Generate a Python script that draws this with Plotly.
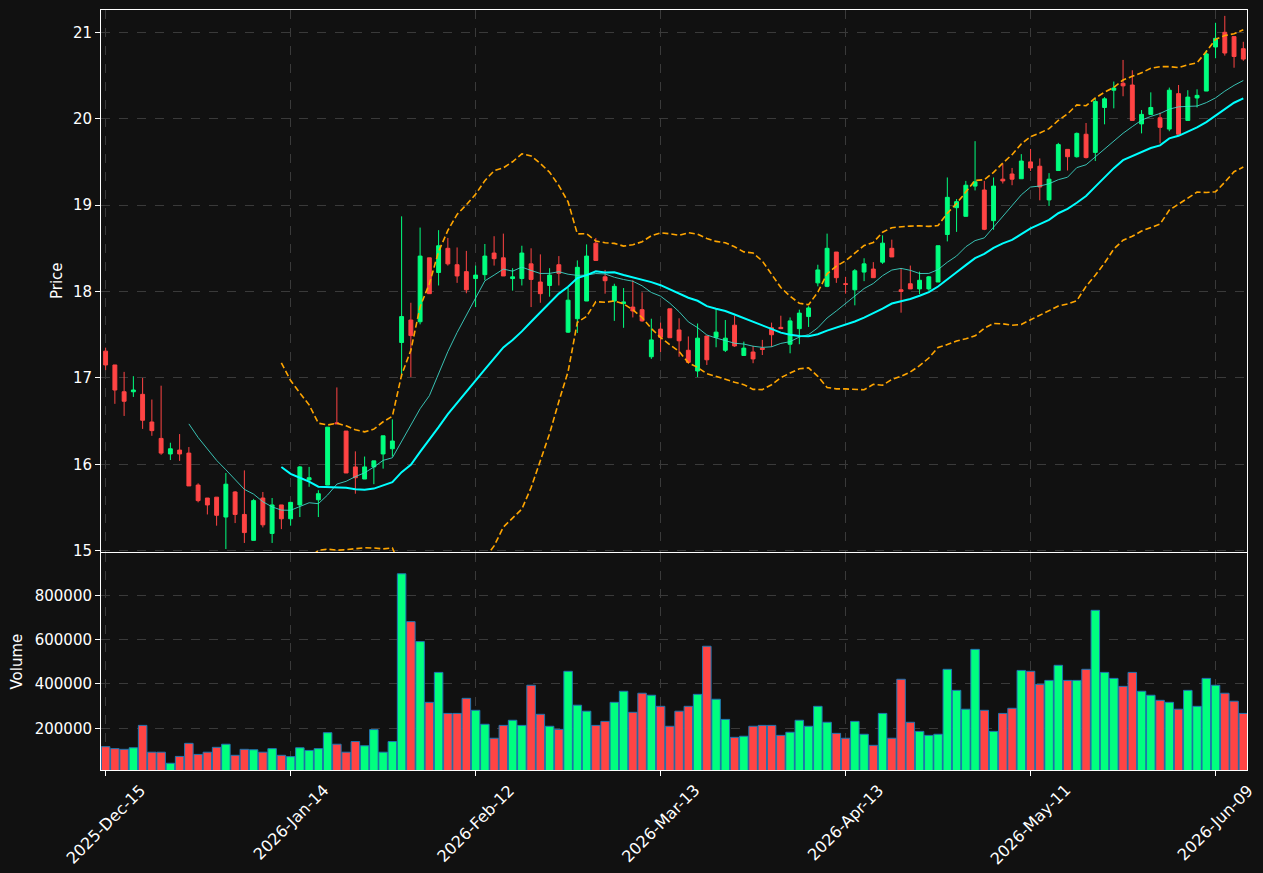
import plotly.graph_objects as go
import pandas as pd

# ---- data ----
tick_labels = ["2025-Dec-15", "2026-Jan-14", "2026-Feb-12", "2026-Mar-13",
               "2026-Apr-13", "2026-May-11", "2026-Jun-09"]
tick_index = [0, 20, 40, 60, 80, 100, 120]

opens = [17.31, 17.15, 16.84, 16.84, 16.81, 16.49, 16.30, 16.12, 16.165, 16.13,
         15.76, 15.61, 15.62, 15.39, 15.68, 15.42, 15.12, 15.61, 15.20, 15.53,
         15.37, 15.53, 15.82, 15.59, 15.76, 16.48, 16.385, 15.97, 15.83, 15.97,
         16.12, 16.18, 17.41, 17.67, 17.65, 18.39, 18.22, 18.50, 18.31, 18.23,
         18.15, 18.195, 18.445, 18.39, 18.15, 18.15, 18.32, 18.11, 18.07, 18.31,
         17.53, 17.685, 17.89, 18.56, 18.17, 17.89, 17.86, 17.82, 17.79, 17.245,
         17.565, 17.80, 17.555, 17.32, 17.08, 17.485, 17.47, 17.32, 17.61, 17.26,
         17.30, 17.345, 17.58, 17.585, 17.39, 17.57, 17.71, 18.10, 18.06, 18.457,
         18.09, 18.02, 18.225, 18.26, 18.34, 18.50, 18.02, 18.09, 18.03, 18.03,
         18.11, 18.66, 18.97, 18.87, 19.22, 19.175, 18.82, 19.30, 19.36, 19.305,
         19.50, 19.45, 19.06, 19.40, 19.645, 19.56, 19.82, 19.61, 20.13, 20.33,
         20.41, 20.39, 19.94, 20.05, 20.01, 19.88, 20.29, 19.98, 20.24, 20.32,
         20.83, 21.00, 20.95, 20.81]
highs = [17.35, 17.15, 17.07, 17.02, 17.00, 16.75, 16.91, 16.25, 16.35, 16.20,
         15.78, 15.61, 15.62, 15.90, 15.69, 15.93, 15.60, 15.68, 15.61, 15.53,
         15.56, 15.98, 15.97, 15.70, 16.43, 16.89, 16.385, 16.15, 16.09, 16.04,
         16.33, 16.52, 18.87, 17.87, 18.74, 18.39, 18.71, 18.62, 18.51, 18.47,
         18.30, 18.55, 18.64, 18.67, 18.27, 18.53, 18.50, 18.43, 18.27, 18.41,
         18.04, 18.36, 18.545, 18.62, 18.25, 18.09, 18.04, 18.13, 17.99, 17.685,
         17.64, 17.80, 17.69, 17.48, 17.63, 17.485, 17.80, 17.67, 17.72, 17.42,
         17.37, 17.44, 17.64, 17.72, 17.70, 17.79, 17.83, 18.31, 18.67, 18.457,
         18.17, 18.26, 18.385, 18.34, 18.65, 18.60, 18.27, 18.30, 18.23, 18.18,
         18.53, 19.32, 19.07, 19.28, 19.74, 19.28, 19.32, 19.48, 19.43, 19.59,
         19.65, 19.54, 19.37, 19.72, 19.645, 19.84, 19.95, 20.23, 20.25, 20.43,
         20.68, 20.56, 20.10, 20.305, 20.07, 20.36, 20.39, 20.33, 20.34, 20.795,
         21.11, 21.19, 20.95, 20.89]
lows = [17.09, 16.70, 16.56, 16.78, 16.41, 16.33, 16.11, 16.05, 16.04, 15.75,
        15.56, 15.42, 15.29, 15.02, 15.32, 15.09, 15.12, 15.27, 15.09, 15.25,
        15.29, 15.39, 15.74, 15.39, 15.76, 16.465, 15.90, 15.66, 15.83, 15.77,
        15.95, 16.09, 17.01, 17.01, 17.62, 17.975, 18.07, 18.30, 18.10, 17.98,
        17.82, 18.13, 18.30, 18.18, 18.01, 18.07, 17.82, 17.87, 17.94, 18.07,
        17.52, 17.52, 17.89, 18.36, 17.975, 17.66, 17.58, 17.70, 17.65, 17.22,
        17.30, 17.465, 17.245, 17.17, 17.01, 17.15, 17.355, 17.30, 17.36, 17.26,
        17.17, 17.265, 17.36, 17.57, 17.285, 17.39, 17.59, 18.06, 18.05, 18.10,
        17.975, 17.84, 18.12, 18.16, 18.32, 18.40, 17.755, 18.03, 17.97, 18.01,
        18.11, 18.58, 18.69, 18.87, 19.17, 18.71, 18.715, 19.25, 19.23, 19.305,
        19.395, 19.055, 18.99, 19.40, 19.40, 19.55, 19.54, 19.51, 19.935, 20.12,
        20.26, 19.98, 19.83, 20.05, 19.715, 19.855, 19.82, 19.98, 20.13, 20.32,
        20.70, 20.73, 20.59, 20.67]
closes = [17.15, 16.86, 16.73, 16.86, 16.51, 16.39, 16.13, 16.18, 16.12, 15.75,
          15.58, 15.53, 15.41, 15.77, 15.42, 15.21, 15.58, 15.30, 15.53, 15.37,
          15.56, 15.97, 15.845, 15.66, 16.43, 16.47, 15.90, 15.845, 15.97, 16.04,
          16.33, 16.27, 17.71, 17.49, 18.41, 17.975, 18.53, 18.32, 18.18, 18.02,
          18.19, 18.41, 18.38, 18.18, 18.17, 18.445, 18.14, 17.975, 18.19, 18.21,
          17.90, 18.28, 18.41, 18.36, 18.125, 18.06, 17.88, 17.775, 17.66, 17.44,
          17.47, 17.465, 17.43, 17.18, 17.46, 17.21, 17.53, 17.46, 17.37, 17.345,
          17.22, 17.33, 17.50, 17.57, 17.66, 17.75, 17.81, 18.25, 18.50, 18.16,
          18.083, 18.24, 18.32, 18.16, 18.56, 18.40, 18.00, 18.03, 18.13, 18.17,
          18.53, 19.09, 19.04, 19.23, 19.27, 18.72, 19.22, 19.28, 19.30, 19.51,
          19.43, 19.21, 19.30, 19.70, 19.56, 19.83, 19.55, 20.20, 20.23, 20.355,
          20.38, 19.98, 20.05, 20.13, 19.90, 20.33, 19.82, 20.25, 20.27, 20.75,
          20.93, 20.76, 20.72, 20.69]
volumes = [117000, 108000, 105000, 112000, 213000, 92000, 92000, 42000, 73000, 132000,
           82000, 92000, 114000, 128000, 78000, 105000, 103000, 92000, 108000, 78000,
           72000, 112000, 100000, 108000, 180000, 128000, 92000, 140000, 121000, 194000,
           92000, 140000, 897000, 681000, 591000, 317000, 452000, 267000, 267000, 335000,
           281000, 218000, 155000, 213000, 236000, 213000, 394000, 263000, 209000, 195000,
           457000, 304000, 277000, 213000, 231000, 317000, 367000, 272000, 358000, 349000,
           299000, 209000, 277000, 299000, 353000, 570000, 331000, 240000, 159000, 164000,
           209000, 213000, 213000, 168000, 182000, 236000, 209000, 299000, 227000, 177000,
           155000, 231000, 173000, 123000, 267000, 155000, 421000, 227000, 186000, 168000,
           173000, 466000, 371000, 286000, 556000, 281000, 186000, 267000, 290000, 461000,
           457000, 398000, 416000, 484000, 416000, 416000, 466000, 732000, 452000, 425000,
           389000, 452000, 367000, 349000, 326000, 317000, 286000, 371000, 299000, 425000,
           394000, 358000, 322000, 267000]

# ---- styles ----
UP = "#00ff7f"
DOWN = "#ff4444"
BG = "#111111"
GRID = "#3a3a3a"
FONT = "DejaVu Sans"

x = list(range(len(closes)))
cs = pd.Series(closes)
ma10 = cs.rolling(10).mean()
ma20 = cs.rolling(20).mean()
sd20 = cs.rolling(20).std()
upper = ma20 + 2 * sd20
lower = ma20 - 2 * sd20
vol_colors = [UP if c >= o else DOWN for o, c in zip(opens, closes)]

fig = go.Figure()
fig.add_trace(go.Candlestick(
    x=x, open=opens, high=highs, low=lows, close=closes,
    increasing=dict(line=dict(color=UP, width=1), fillcolor=UP),
    decreasing=dict(line=dict(color=DOWN, width=1), fillcolor=DOWN),
    whiskerwidth=0, xaxis="x", yaxis="y", showlegend=False, name="OHLC"))
fig.add_trace(go.Scatter(x=x, y=ma10, mode="lines",
                         line=dict(color="#40e0d0", width=1), opacity=0.85,
                         xaxis="x", yaxis="y", showlegend=False))
fig.add_trace(go.Scatter(x=x, y=ma20, mode="lines",
                         line=dict(color="#00ffff", width=2),
                         xaxis="x", yaxis="y", showlegend=False))
for band in (upper, lower):
    fig.add_trace(go.Scatter(x=x, y=band, mode="lines",
                             line=dict(color="#ffa500", width=1.6, dash="6px,3px"),
                             xaxis="x", yaxis="y", showlegend=False))
fig.add_trace(go.Bar(x=x, y=volumes,
                     marker=dict(color=vol_colors, line=dict(color="#1f77b4", width=1)),
                     width=0.92, xaxis="x2", yaxis="y2", showlegend=False))

axis_common = dict(showline=True, linecolor="white", linewidth=1, mirror=True,
                   showgrid=True, gridcolor=GRID, griddash="dash", gridwidth=1,
                   zeroline=False, tickfont=dict(color="white", size=15, family=FONT),
                   ticks="outside", tickcolor="white", ticklen=5, tickwidth=1)

# rotated date labels centred under their ticks (as annotations)
annotations = [
    dict(text=lab, x=ti, xref="x2", y=0, yref="paper", xanchor="center",
         yanchor="top", yshift=-8, textangle=-45, showarrow=False,
         font=dict(color="white", size=16, family=FONT))
    for ti, lab in zip(tick_index, tick_labels)
]
annotations += [
    dict(text="Price", xref="paper", yref="paper", x=0, y=(0.2868 + 1) / 2,
         xanchor="center", yanchor="middle", xshift=-44, textangle=-90,
         showarrow=False, font=dict(color="white", size=15, family=FONT)),
    dict(text="Volume", xref="paper", yref="paper", x=0, y=0.2855 / 2,
         xanchor="center", yanchor="middle", xshift=-84, textangle=-90,
         showarrow=False, font=dict(color="white", size=15, family=FONT)),
]

fig.update_layout(
    width=1263, height=873,
    paper_bgcolor=BG, plot_bgcolor=BG,
    margin=dict(l=101, r=16, t=10, b=103),
    font=dict(family=FONT, color="white", size=15),
    showlegend=False,
    boxgap=0.4,
    xaxis=dict(domain=[0, 1], anchor="y", range=[-0.5, 123.4],
               tickvals=tick_index, showticklabels=False,
               rangeslider=dict(visible=False), **{**axis_common, "ticks": ""}),
    yaxis=dict(domain=[0.2868, 1], anchor="x", range=[14.985, 21.258],
               tickvals=[15, 16, 17, 18, 19, 20, 21], **axis_common),
    xaxis2=dict(domain=[0, 1], anchor="y2", matches="x", range=[-0.5, 123.4],
                tickvals=tick_index, showticklabels=False,
                automargin=False, **axis_common),
    yaxis2=dict(domain=[0, 0.2855], anchor="x2", range=[11700, 990600],
                tickvals=[200000, 400000, 600000, 800000], tickformat="d",
                **axis_common),
    annotations=annotations,
)

fig.write_html("out.html")
